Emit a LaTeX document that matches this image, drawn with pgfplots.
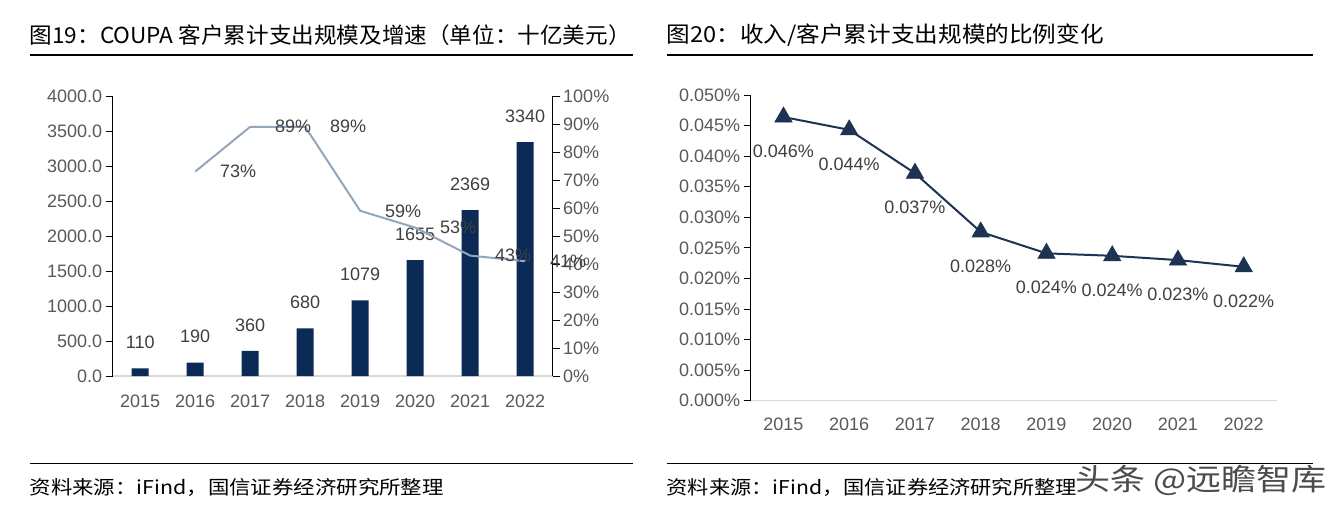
\documentclass[border=0pt]{standalone}
\usepackage{pgfplots}
\pgfplotsset{compat=1.18}
\usepackage{fontspec}
\usepackage{graphicx}
\setmainfont{Liberation Sans}
\newfontfamily\cjk{Noto Sans CJK SC}
\definecolor{barc}{HTML}{0B2A55}
\definecolor{gline}{HTML}{93A6BA}
\definecolor{nline}{HTML}{1E3353}
\definecolor{tickc}{HTML}{595959}
\definecolor{lblc}{HTML}{404040}
\definecolor{basec}{HTML}{D9D9D9}
\pgfplotsset{
  base/.style={
    scale only axis,
    font=\fontsize{18}{21}\selectfont,
    /pgf/number format/assume math mode=true,
    ticklabel style={text=tickc},
    axis line style={-},
    tick align=outside,
    major tick length=7pt,
    clip=false,
    scaled y ticks=false,
  }
}
\begin{document}
\begin{tikzpicture}[x=1pt,y=1pt]
\path[use as bounding box, fill=white] (0,0) rectangle (1343,-514);

% ---------- titles and rules ----------
\node[anchor=west, inner sep=0] at (29.5,-35) {\resizebox{601pt}{\height}{\cjk\fontsize{22}{26}\selectfont 图19：COUPA 客户累计支出规模及增速（单位：十亿美元）}};
\node[anchor=west, inner sep=0] at (666.5,-35) {\resizebox{437pt}{\height}{\cjk\fontsize{22}{26}\selectfont 图20：收入/客户累计支出规模的比例变化}};
\draw[line width=1.2pt] (29.5,-55) -- (633,-55);
\draw[line width=1.2pt] (666.5,-55) -- (1313,-55);
\draw[line width=1.2pt] (29.5,-463.3) -- (633,-463.3);
\draw[line width=1.2pt] (666.5,-463.3) -- (1313,-463.3);
\node[anchor=west, inner sep=0] at (29.5,-487) {\resizebox{414pt}{\height}{\cjk\fontsize{19}{22}\selectfont 资料来源：iFind，国信证券经济研究所整理}};
\node[anchor=west, inner sep=0] at (666.5,-487) {\resizebox{410pt}{\height}{\cjk\fontsize{19}{22}\selectfont 资料来源：iFind，国信证券经济研究所整理}};

% ---------- left chart: bars ----------
\begin{axis}[base,
  at={(112.7pt,-376pt)}, anchor=south west,
  width=440pt, height=280pt,
  xmin=-0.5, xmax=7.5, ymin=0, ymax=4000,
  axis x line*=bottom, axis y line*=left,
  x axis line style={draw=basec, line width=1.5pt},
  y axis line style={draw=black, line width=0.9pt},
  xtick={0,...,7}, xticklabels={2015,2016,2017,2018,2019,2020,2021,2022},
  xtick style={draw=none},
  xticklabel style={yshift=-8pt},
  ytick={0,500,1000,1500,2000,2500,3000,3500,4000},
  ytick style={draw=black, line width=0.9pt},
  yticklabel style={/pgf/number format/.cd, fixed, fixed zerofill, precision=1, 1000 sep={}},
]
\addplot[ybar, bar width=17pt, fill=barc, draw=none,
  nodes near coords={\pgfmathprintnumber[fixed,precision=0,1000 sep={}]{\pgfplotspointmeta}},
  every node near coord/.append style={anchor=center, yshift=26pt, text=lblc, font=\fontsize{18}{21}\selectfont}]
  coordinates {(0,110) (1,190) (2,360) (3,680) (4,1079) (5,1655) (6,2369) (7,3340)};
\end{axis}

% ---------- left chart: growth line ----------
\begin{axis}[base,
  at={(112.7pt,-376pt)}, anchor=south west,
  width=440pt, height=280pt,
  xmin=-0.5, xmax=7.5, ymin=0, ymax=100,
  axis x line=none, axis y line*=right,
  y axis line style={draw=black, line width=0.9pt},
  ytick={0,10,...,100},
  ytick style={draw=black, line width=0.9pt},
  yticklabel={\pgfmathprintnumber[fixed,precision=0]{\tick}\%},
]
\addplot[gline, line width=2pt, mark=none,
  nodes near coords={\pgfmathprintnumber[fixed,precision=0]{\pgfplotspointmeta}\%},
  every node near coord/.append style={anchor=center, xshift=43pt, yshift=0pt, text=lblc, font=\fontsize{18}{21}\selectfont}]
  coordinates {(1,73) (2,89) (3,89) (4,59) (5,53) (6,43) (7,41)};
\end{axis}

% ---------- right chart ----------
\begin{axis}[base,
  at={(750.6pt,-400.7pt)}, anchor=south west,
  width=526pt, height=305.7pt,
  xmin=-0.5, xmax=7.5, ymin=0, ymax=0.05,
  axis x line*=bottom, axis y line*=left,
  x axis line style={draw=basec, line width=1.5pt},
  y axis line style={draw=black, line width=0.9pt},
  xtick={0,...,7}, xticklabels={2015,2016,2017,2018,2019,2020,2021,2022},
  xtick style={draw=none},
  xticklabel style={yshift=-7pt},
  ytick={0,0.005,0.01,0.015,0.02,0.025,0.03,0.035,0.04,0.045,0.05},
  ytick style={draw=black, line width=0.9pt},
  yticklabel={\pgfmathprintnumber[fixed,fixed zerofill,precision=3]{\tick}\%},
]
\addplot[nline, line width=2pt, mark=triangle*, mark size=10pt,
  mark options={fill=nline, draw=nline, line width=0.6pt},
  nodes near coords={\pgfmathprintnumber[fixed,fixed zerofill,precision=3]{\pgfplotspointmeta}\%},
  every node near coord/.append style={anchor=center, yshift=-34pt, text=lblc, font=\fontsize{18}{21}\selectfont}]
  coordinates {(0,0.0464) (1,0.0443) (2,0.0372) (3,0.0276) (4,0.0241) (5,0.0237) (6,0.0230) (7,0.0219)};
\end{axis}

% watermark
\node[anchor=west, inner sep=0, text=black!70] at (1075,-480) {\resizebox{251pt}{\height}{\cjk\fontsize{30}{34}\selectfont 头条 @远瞻智库}};
\end{tikzpicture}
\end{document}
